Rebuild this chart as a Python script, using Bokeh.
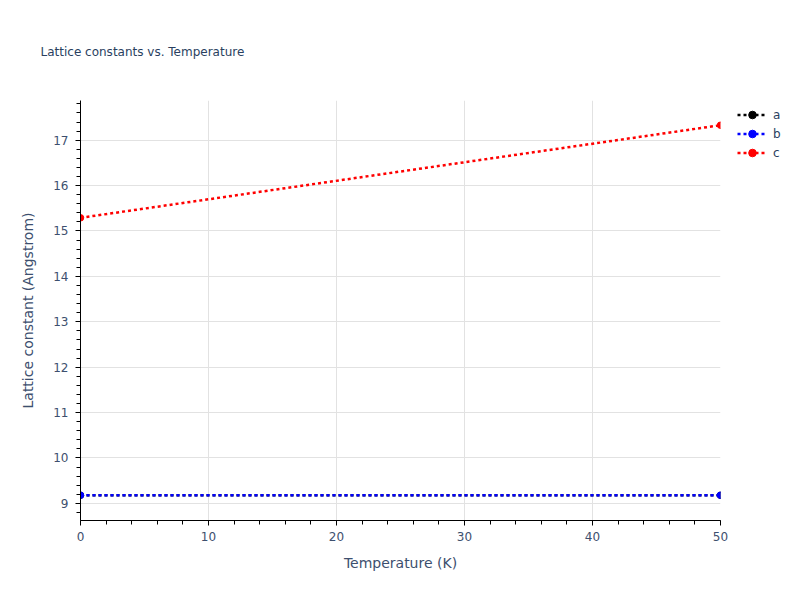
from bokeh.plotting import figure
from bokeh.models import Range1d, Legend, LegendItem, FixedTicker
from bokeh.embed import file_html
from bokeh.resources import INLINE

temperature = [0, 50]
a_values = [9.18, 9.18]
b_values = [9.18, 9.18]
c_values = [15.29, 17.33]

series = [("a", a_values, "black"), ("b", b_values, "blue"), ("c", c_values, "red")]

x_ticks = [0, 10, 20, 30, 40, 50]
y_ticks = [9, 10, 11, 12, 13, 14, 15, 16, 17]

FONT = "DejaVu Sans"
TEXT = "#2a3f5f"

p = figure(width=790, height=590, output_backend="svg", toolbar_location=None,
           x_range=Range1d(0, 50), y_range=Range1d(8.623, 17.874),
           min_border_left=80, min_border_right=70, min_border_top=100, min_border_bottom=70,
           frame_width=640, frame_height=420)
p.outline_line_color = None

items = []
for name, vals, color in series:
    r1 = p.line(temperature, vals, line_color=color, line_width=2.5, line_dash="3 3")
    r2 = p.scatter(temperature, vals, size=6.5, fill_color=color, line_color=color)
    items.append(LegendItem(label=name, renderers=[r1, r2]))

legend = Legend(items=items, location=(17, 358))
legend.padding = 0
legend.margin = 0
legend.spacing = 0
legend.glyph_width = 30
legend.glyph_height = 19
legend.label_height = 19
legend.label_standoff = 6
legend.border_line_color = None
legend.background_fill_alpha = 0
legend.label_text_font = FONT
legend.label_text_font_size = "12px"
legend.label_text_color = TEXT
p.add_layout(legend, "right")

for ax in (p.xaxis, p.yaxis):
    ax.axis_line_color = "black"
    ax.axis_line_width = 1
    ax.major_tick_line_color = "black"
    ax.minor_tick_line_color = "black"
    ax.major_tick_out = 5
    ax.major_tick_in = 0
    ax.minor_tick_out = 4
    ax.minor_tick_in = 0
    ax.major_label_text_font = FONT
    ax.major_label_text_font_size = "12px"
    ax.major_label_text_color = "#3d4f6e"
    ax.axis_label_text_font = FONT
    ax.axis_label_text_font_size = "14px"
    ax.axis_label_text_font_style = "normal"
    ax.axis_label_text_color = "#3d4f6e"

p.xaxis.ticker = FixedTicker(ticks=x_ticks, minor_ticks=list(range(0, 51, 2)))
p.yaxis.ticker = FixedTicker(ticks=y_ticks, minor_ticks=[8.8 + 0.2 * i for i in range(46)])
p.xaxis.axis_label = "Temperature (K)"
p.yaxis.axis_label = "Lattice constant (Angstrom)"
p.xaxis.axis_label_standoff = 11
p.yaxis.axis_label_standoff = 14
p.xaxis.major_label_standoff = 6
p.yaxis.major_label_standoff = 7

p.xgrid.ticker = FixedTicker(ticks=x_ticks)
p.ygrid.ticker = FixedTicker(ticks=y_ticks)
p.xgrid.grid_line_color = "#e2e2e2"
p.ygrid.grid_line_color = "#e2e2e2"

p.title.text = "Lattice constants vs. Temperature"
p.title.text_font = FONT
p.title.text_font_size = "12px"
p.title.text_font_style = "normal"
p.title.text_color = TEXT
p.title.offset = -40
p.title.standoff = 83

open("out.html", "w").write(file_html(p, INLINE))
